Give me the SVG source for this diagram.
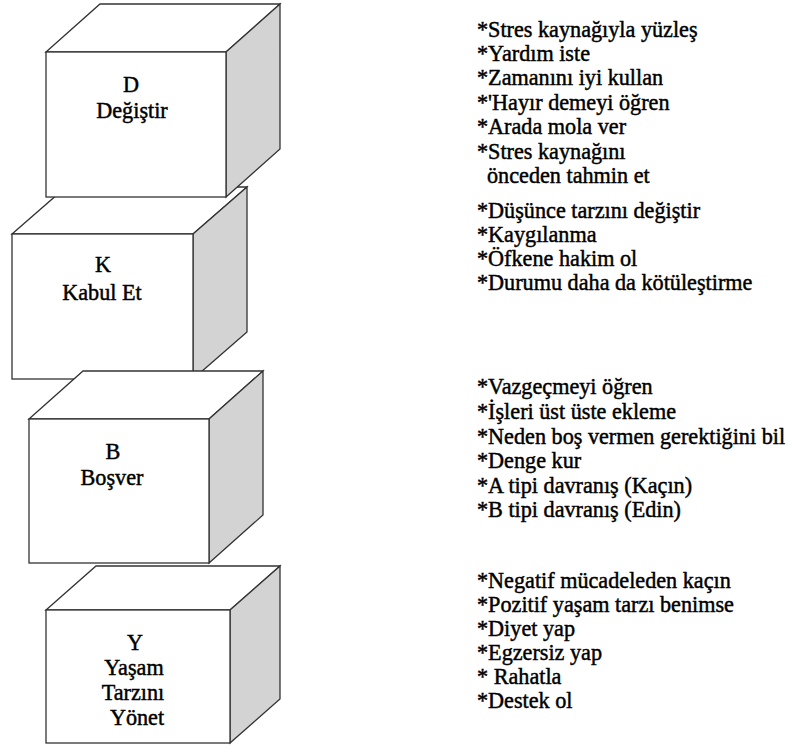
<svg xmlns="http://www.w3.org/2000/svg" width="790" height="745" viewBox="0 0 790 745">
<style>
.f{fill:#fff;stroke:#333;stroke-width:1.3;stroke-linejoin:miter}
.s{fill:#d3d3d3;stroke:#333;stroke-width:1.3}
.t{font-family:'Liberation Serif','Times New Roman',Tinos,'DejaVu Serif',serif;font-size:22.2px;fill:#000;stroke:#000;stroke-width:0.45}
.c{text-anchor:middle}
</style>
<rect width="790" height="745" fill="#fff"/>
<g id="cube-K">
<polygon class="f" points="12,234 66,187 247,187 193,234"/>
<polygon class="s" points="193,234 247,187 247,332 193,379"/>
<rect class="f" x="12" y="234" width="181" height="145"/>
<g class="t c" font-family="Liberation Serif, serif">
<text x="103" y="272">K</text>
<text x="102" y="300">Kabul Et</text>
</g>
</g>
<g id="cube-D">
<polygon class="f" points="46,52 100,4 280,4 226,52"/>
<polygon class="s" points="226,52 280,4 280,149 226,197"/>
<rect class="f" x="46" y="52" width="180" height="145"/>
<g class="t c" font-family="Liberation Serif, serif">
<text x="131" y="92">D</text>
<text x="132" y="118">Değiştir</text>
</g>
</g>
<g id="cube-Y">
<polygon class="f" points="46,610 96,566 280,566 230,610"/>
<polygon class="s" points="230,610 280,566 280,699 230,743"/>
<rect class="f" x="46" y="610" width="184" height="133"/>
<g class="t c" font-family="Liberation Serif, serif">
<text x="135" y="650">Y</text>
<text x="134" y="675">Yaşam</text>
<text x="133" y="700">Tarzını</text>
<text x="137" y="725">Yönet</text>
</g>
</g>
<g id="cube-B">
<polygon class="f" points="29,419 83,371 263,371 209,419"/>
<polygon class="s" points="209,419 263,371 263,515 209,563"/>
<rect class="f" x="29" y="419" width="180" height="144"/>
<g class="t c" font-family="Liberation Serif, serif">
<text x="113" y="459">B</text>
<text x="112" y="485">Boşver</text>
</g>
</g>
<g id="list-D" class="t" font-family="Liberation Serif, serif">
<text x="477" y="37">*Stres kaynağıyla yüzleş</text>
<text x="477" y="61">*Yardım iste</text>
<text x="477" y="85">*Zamanını iyi kullan</text>
<text x="477" y="110">*'Hayır demeyi öğren</text>
<text x="477" y="134">*Arada mola ver</text>
<text x="477" y="159">*Stres kaynağını</text>
<text x="487" y="183">önceden tahmin et</text>
</g>
<g id="list-K" class="t" font-family="Liberation Serif, serif">
<text x="477" y="218">*Düşünce tarzını değiştir</text>
<text x="477" y="242">*Kaygılanma</text>
<text x="477" y="266">*Öfkene hakim ol</text>
<text x="477" y="290">*Durumu daha da kötüleştirme</text>
</g>
<g id="list-B" class="t" font-family="Liberation Serif, serif">
<text x="477" y="394">*Vazgeçmeyi öğren</text>
<text x="477" y="419">*İşleri üst üste ekleme</text>
<text x="477" y="444">*Neden boş vermen gerektiğini bil</text>
<text x="477" y="468">*Denge kur</text>
<text x="477" y="493">*A tipi davranış (Kaçın)</text>
<text x="477" y="517">*B tipi davranış (Edin)</text>
</g>
<g id="list-Y" class="t" font-family="Liberation Serif, serif">
<text x="477" y="588">*Negatif mücadeleden kaçın</text>
<text x="477" y="612">*Pozitif yaşam tarzı benimse</text>
<text x="477" y="636">*Diyet yap</text>
<text x="477" y="660">*Egzersiz yap</text>
<text x="477" y="684">* Rahatla</text>
<text x="477" y="708">*Destek ol</text>
</g>
<g id="connectors"></g>
</svg>
